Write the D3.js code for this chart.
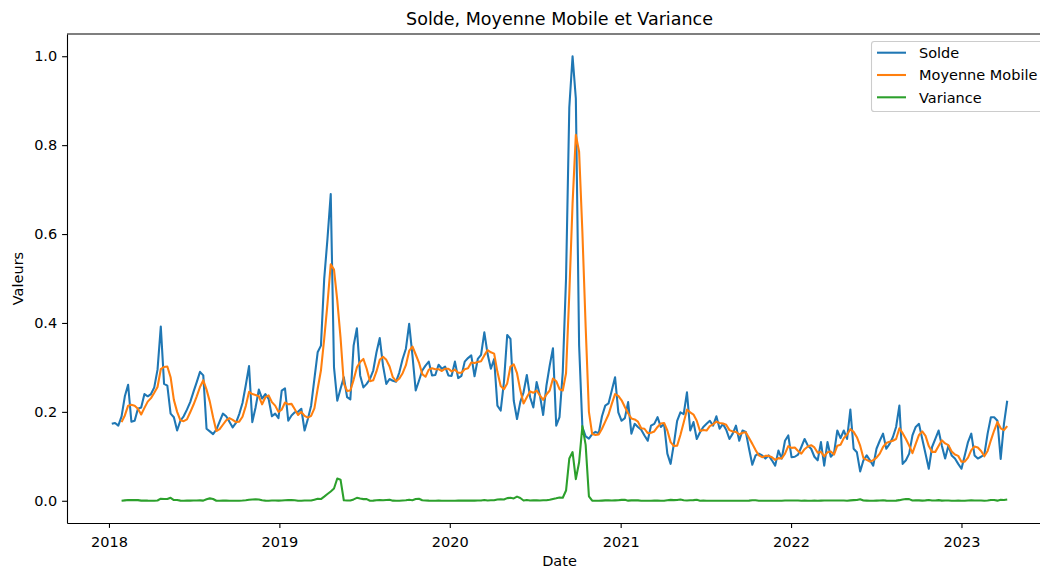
<!DOCTYPE html>
<html><head><meta charset="utf-8">
<script src="https://cdn.jsdelivr.net/npm/d3@7"></script>
<style>
html,body{margin:0;padding:0;background:#fff;}
svg{display:block;font-family:"DejaVu Sans",sans-serif;}
</style></head><body>
<svg id="chart" width="1040" height="567"></svg>
<script>
// ---------- data (weekly) ----------
const startDate = "2018-01-07";
const solde = [
.173,.175,.169,.19,.235,.261,.178,.18,.207,.21,
.24,.235,.24,.255,.295,.392,.263,.259,.196,.188,
.158,.18,.19,.205,.222,.245,.267,.29,.282,.162,
.156,.15,.16,.178,.196,.19,.178,.165,.175,.195,
.22,.26,.303,.177,.21,.25,.23,.24,.229,.19,
.196,.186,.248,.253,.18,.192,.199,.2,.207,.158,
.184,.214,.274,.334,.349,.499,.589,.69,.30,.225,
.252,.278,.233,.228,.349,.388,.282,.255,.263,.274,
.293,.334,.366,.304,.263,.274,.27,.268,.289,.319,
.342,.398,.327,.248,.27,.293,.304,.313,.282,.283,
.306,.297,.302,.282,.281,.313,.276,.281,.313,.321,
.327,.28,.319,.328,.379,.33,.297,.319,.214,.203,
.267,.373,.364,.225,.184,.222,.244,.283,.233,.21,
.267,.237,.193,.259,.304,.343,.169,.188,.29,.50,
.885,1.0,.905,.35,.166,.145,.14,.15,.155,.152,
.19,.214,.219,.248,.278,.199,.18,.186,.222,.151,
.173,.166,.16,.147,.135,.169,.173,.188,.166,.173,
.106,.083,.128,.18,.199,.195,.244,.158,.177,.139,
.154,.166,.173,.18,.169,.19,.162,.173,.16,.139,
.151,.169,.135,.158,.155,.117,.081,.102,.106,.102,
.095,.102,.091,.079,.113,.095,.135,.147,.098,.099,
.104,.121,.139,.124,.117,.099,.091,.132,.079,.132,
.099,.107,.158,.141,.158,.139,.205,.117,.109,.066,
.091,.102,.091,.079,.117,.135,.151,.117,.128,.143,
.166,.214,.083,.091,.106,.147,.166,.173,.139,.106,
.072,.121,.139,.158,.124,.095,.124,.102,.095,.083,
.072,.102,.132,.151,.102,.095,.099,.104,.151,.188,
.188,.18,.094,.173,.225
];
const moyenneMobile = [
null,null,null,.177,.192,.214,.216,.214,.207,.194,
.209,.223,.231,.243,.256,.296,.301,.302,.278,.227,
.200,.181,.179,.183,.199,.216,.235,.256,.271,.250,
.223,.188,.157,.161,.171,.181,.186,.182,.177,.178,
.189,.213,.245,.240,.238,.235,.217,.233,.237,.222,
.214,.200,.205,.221,.217,.218,.206,.193,.200,.191,
.187,.191,.208,.252,.293,.364,.443,.532,.520,.451,
.367,.264,.247,.248,.272,.300,.312,.319,.297,.269,
.271,.291,.317,.324,.317,.302,.278,.269,.275,.287,
.305,.337,.347,.329,.311,.285,.279,.295,.298,.296,
.296,.292,.297,.297,.291,.295,.288,.288,.296,.298,
.311,.310,.312,.314,.327,.339,.334,.331,.290,.258,
.251,.264,.302,.307,.287,.249,.219,.233,.246,.243,
.248,.237,.227,.239,.248,.275,.269,.251,.248,.287,
.466,.669,.823,.785,.605,.392,.200,.150,.148,.149,
.162,.178,.194,.218,.240,.236,.226,.211,.197,.185,
.183,.178,.163,.162,.152,.153,.156,.166,.174,.175,
.158,.132,.123,.124,.148,.176,.205,.199,.194,.180,
.157,.159,.158,.168,.172,.178,.175,.174,.171,.159,
.156,.155,.149,.153,.154,.141,.128,.114,.102,.098,
.101,.101,.098,.092,.096,.095,.106,.123,.119,.120,
.112,.106,.116,.122,.125,.120,.108,.110,.100,.109,
.111,.104,.124,.126,.141,.149,.161,.155,.143,.124,
.096,.092,.088,.091,.097,.106,.121,.130,.133,.135,
.139,.163,.152,.139,.124,.107,.128,.148,.156,.146,
.123,.110,.110,.123,.136,.129,.125,.111,.104,.101,
.088,.088,.097,.114,.122,.120,.112,.100,.112,.136,
.158,.177,.163,.159,.168
];
const variance = [
null,null,null,.0001,.0009,.0018,.0015,.0017,.0015,.0003,
.0006,.0003,.0002,.0001,.0007,.0047,.0039,.0038,.0067,.0016,
.0018,.0003,.0002,.0004,.0003,.0006,.0007,.0009,.0004,.0036,
.0054,.0040,.0000,.0001,.0004,.0003,.0001,.0002,.0001,.0002,
.0006,.0013,.0022,.0029,.0031,.0029,.0010,.0003,.0001,.0005,
.0006,.0004,.0008,.0012,.0015,.0014,.0010,.0001,.0000,.0005,
.0005,.0006,.0025,.0044,.0038,.0092,.0151,.0209,.0275,.0500,
.0474,.0011,.0006,.0005,.0031,.0066,.0050,.0037,.0038,.0001,
.0003,.0010,.0017,.0011,.0019,.0021,.0003,.0000,.0001,.0006,
.0011,.0021,.0013,.0038,.0045,.0011,.0006,.0003,.0002,.0002,
.0003,.0001,.0001,.0001,.0001,.0002,.0003,.0003,.0004,.0005,
.0004,.0004,.0005,.0005,.0017,.0007,.0011,.0012,.0028,.0034,
.0029,.0060,.0066,.0053,.0093,.0062,.0006,.0017,.0007,.0009,
.0011,.0005,.0011,.0011,.0021,.0041,.0056,.0073,.0069,.0230,
.0950,.1095,.0487,.0867,.1679,.1257,.0101,.0001,.0000,.0000,
.0004,.0009,.0009,.0006,.0009,.0012,.0020,.0021,.0003,.0009,
.0009,.0009,.0001,.0001,.0002,.0002,.0003,.0005,.0001,.0001,
.0013,.0020,.0015,.0017,.0027,.0011,.0008,.0012,.0014,.0021,
.0002,.0003,.0002,.0001,.0000,.0001,.0002,.0001,.0002,.0002,
.0002,.0002,.0002,.0002,.0002,.0004,.0013,.0010,.0002,.0001,
.0000,.0000,.0000,.0001,.0002,.0002,.0006,.0005,.0007,.0006,
.0006,.0001,.0003,.0002,.0001,.0003,.0002,.0003,.0005,.0008,
.0007,.0005,.0007,.0008,.0006,.0001,.0009,.0014,.0019,.0034,
.0005,.0004,.0002,.0001,.0003,.0006,.0010,.0003,.0002,.0002,
.0004,.0014,.0030,.0039,.0037,.0008,.0012,.0009,.0003,.0009,
.0019,.0008,.0008,.0014,.0003,.0007,.0007,.0002,.0002,.0003,
.0002,.0002,.0007,.0012,.0006,.0007,.0007,.0000,.0007,.0018,
.0016,.0003,.0021,.0019,.0030
];
const seriesNames = ["Solde", "Moyenne Mobile", "Variance"];
const xTickYears = [2018, 2019, 2020, 2021, 2022, 2023];
const yTickValues = [0.0, 0.2, 0.4, 0.6, 0.8, 1.0];
const titleText = "Solde, Moyenne Mobile et Variance";
const xLabelText = "Date";
const yLabelText = "Valeurs";

// ---------- styles / layout ----------
const COLORS = ["#1f77b4", "#ff7f0e", "#2ca02c"];
const W = 1040, H = 567;
const M = {left: 67, top: 34, right: 1052, bottom: 523};
const FS = 14.5, LW = 2.08, SPW = 1.1, TICK = 4.9;

const svg = d3.select("#chart");
const start = d3.utcParse("%Y-%m-%d")(startDate);
const dates = solde.map((_, i) => d3.utcDay.offset(start, 7 * i));

const t0 = +dates[0], t1 = +dates[dates.length - 1];
const tpad = (t1 - t0) * 0.05;
const x = d3.scaleUtc().domain([new Date(t0 - tpad), new Date(t1 + tpad)]).range([M.left, M.right]);

const allVals = solde.concat(moyenneMobile, variance).filter(v => v != null);
const ymin = d3.min(allVals), ymax = d3.max(allVals);
const ypad = (ymax - ymin) * 0.05;
const y = d3.scaleLinear().domain([ymin - ypad, ymax + ypad]).range([M.bottom, M.top]);

svg.append("rect").attr("width", W).attr("height", H).attr("fill", "#fff");

svg.append("clipPath").attr("id", "clip").append("rect")
  .attr("x", M.left).attr("y", M.top).attr("width", M.right - M.left).attr("height", M.bottom - M.top);

const series = [solde, moyenneMobile, variance];
const lineGen = d3.line()
  .defined(d => d[1] != null)
  .x(d => x(d[0])).y(d => y(d[1]));
const plot = svg.append("g").attr("clip-path", "url(#clip)");
series.forEach((s, k) => {
  plot.append("path")
    .datum(s.map((v, i) => [dates[i], v]))
    .attr("fill", "none")
    .attr("stroke", COLORS[k])
    .attr("stroke-width", LW)
    .attr("stroke-linejoin", "round")
    .attr("d", lineGen);
});

const xAxis = d3.axisBottom(x)
  .tickValues(xTickYears.map(yr => new Date(Date.UTC(yr, 0, 1))))
  .tickFormat(d3.utcFormat("%Y"))
  .tickSizeInner(TICK).tickSizeOuter(0).tickPadding(9);
const gx = svg.append("g").attr("transform", `translate(0,${M.bottom})`).call(xAxis);

const yAxis = d3.axisLeft(y)
  .tickValues(yTickValues)
  .tickFormat(d3.format(".1f"))
  .tickSizeInner(TICK).tickSizeOuter(0).tickPadding(4.9);
const gy = svg.append("g").attr("transform", `translate(${M.left},0)`).call(yAxis);

[gx, gy].forEach(g => {
  g.selectAll("path.domain").attr("stroke", "#000").attr("stroke-width", SPW);
  g.selectAll(".tick line").attr("stroke", "#000").attr("stroke-width", SPW);
  g.selectAll(".tick text").attr("fill", "#000")
    .style("font-family", '"DejaVu Sans", sans-serif').style("font-size", FS + "px");
});

svg.append("line").attr("x1", M.left).attr("x2", M.right).attr("y1", M.top).attr("y2", M.top)
  .attr("stroke", "#000").attr("stroke-width", SPW);
svg.append("line").attr("x1", M.right).attr("x2", M.right).attr("y1", M.top).attr("y2", M.bottom)
  .attr("stroke", "#000").attr("stroke-width", SPW);

const cx = (M.left + M.right) / 2;
svg.append("text").attr("x", cx).attr("y", 24.5).attr("text-anchor", "middle")
  .style("font-size", "17.5px").attr("fill", "#000").text(titleText);
svg.append("text").attr("x", cx).attr("y", 565.5).attr("text-anchor", "middle")
  .style("font-size", FS + "px").attr("fill", "#000").text(xLabelText);
svg.append("text").attr("transform", `translate(23,${(M.top + M.bottom) / 2}) rotate(-90)`)
  .attr("text-anchor", "middle")
  .style("font-size", FS + "px").attr("fill", "#000").text(yLabelText);

const lg = svg.append("g");
lg.append("rect").attr("x", 871.5).attr("y", 41.5).attr("width", 180).attr("height", 70)
  .attr("rx", 2.8).attr("fill", "#fff").attr("fill-opacity", 0.8)
  .attr("stroke", "#cccccc").attr("stroke-width", SPW);
seriesNames.forEach((name, k) => {
  const cy = 52.7 + 22.3 * k;
  lg.append("line").attr("x1", 877).attr("x2", 906).attr("y1", cy).attr("y2", cy)
    .attr("stroke", COLORS[k]).attr("stroke-width", LW);
  lg.append("text").attr("x", 919).attr("y", cy).attr("dy", "0.36em")
    .style("font-size", FS + "px").attr("fill", "#000").text(name);
});
</script>
</body></html>
